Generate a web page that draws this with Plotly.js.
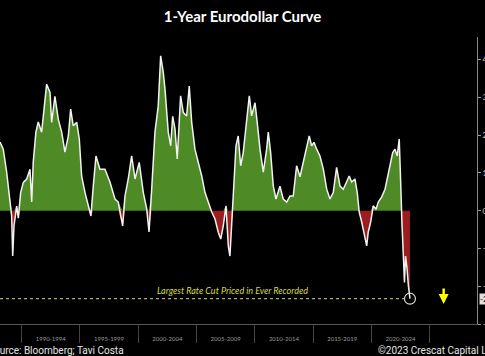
<!DOCTYPE html>
<html>
<head>
<meta charset="utf-8">
<script src="https://cdn.plot.ly/plotly-3.0.1.min.js"></script>
<style>html,body{margin:0;padding:0;background:#000;}#chart{width:485px;height:356px;}</style>
</head>
<body>
<div id="chart"></div>
<script>
// 1-Year Eurodollar Curve (decimal years, spread in %)
const years = [1988.15,1988.43,1988.72,1989.01,1989.15,1989.24,1989.35,1989.58,1989.72,1989.92,
1990.15,1990.44,1990.72,1990.87,1991.00,1991.23,1991.43,1991.72,1992.01,1992.15,1992.44,1992.58,1992.86,
1993.15,1993.44,1993.72,1994.01,1994.21,1994.43,1994.73,1994.95,1995.15,1995.44,1995.72,1995.95,1996.15,
1996.38,1996.72,1997.15,1997.58,1998.01,1998.29,1998.67,1998.87,1999.15,1999.44,1999.73,2000.09,2000.44,
2000.73,2000.93,2001.16,2001.44,2001.72,2001.93,2002.15,2002.30,2002.58,2002.79,2002.96,2003.16,2003.35,
2003.64,2003.87,2004.16,2004.38,2004.59,2004.87,2005.15,2005.45,2005.73,2006.01,2006.30,2006.59,2006.87,
2007.08,2007.30,2007.53,2007.73,2007.87,2008.02,2008.16,2008.39,2008.58,2008.79,2009.01,2009.31,2009.53,
2009.73,2010.02,2010.21,2010.45,2010.73,2011.02,2011.16,2011.36,2011.59,2011.82,2012.16,2012.44,2012.74,
2013.02,2013.30,2013.59,2013.88,2014.16,2014.45,2014.67,2014.88,2015.08,2015.31,2015.59,2015.88,2016.17,
2016.45,2016.73,2017.02,2017.31,2017.59,2017.88,2018.10,2018.31,2018.59,2018.79,2018.96,2019.17,2019.37,
2019.60,2019.73,2019.94,2020.16,2020.40,2020.59,2020.88,2021.17,2021.36,2021.60,2021.83,2022.02,2022.22,
2022.39,2022.45,2022.54,2022.62,2022.71,2022.84,2022.93,2023.05,2023.18,2023.31];
const spread = [1.82,1.63,1.02,0.31,-0.14,-1.2,-0.4,0.12,-0.2,0.48,
0.75,0.84,1.1,0.23,1.28,2.08,2.35,2.08,2.87,3.35,3.13,2.34,3.03,
2.42,2.08,1.55,1.98,2.69,2.25,2.34,1.9,0.92,0.48,0.12,-0.14,0.65,
1.45,1.1,1.1,0.76,0.31,0.23,-0.4,0.39,0.84,1.45,0.84,1.28,0.48,
0.05,-0.56,0.57,2.08,2.77,4.1,3.67,3.22,2.08,1.72,2.5,2.16,1.37,
3.04,2.6,2.51,3.3,2.34,1.63,1.29,0.92,0.48,0.23,-0.03,-0.22,-0.57,
-0.75,-0.4,0.13,-0.93,-1.2,-0.4,0.39,1.72,1.98,1.19,1.54,2.34,3.04,
2.51,2.86,2.34,1.63,1.02,1.63,2.08,1.54,0.65,0.31,0.65,0.31,0.23,
0.39,0.39,1.19,0.9,1.3,1.63,1.98,1.72,1.81,1.63,1.45,1.1,0.57,
0.31,0.48,1.15,0.65,0.57,0.76,0.92,0.76,0.84,0.48,-0.04,-0.3,-0.57,
-0.93,-0.57,-0.3,0.13,0.04,0.23,0.36,0.57,0.84,1.19,1.54,1.63,1.45,
1.9,0.92,0.5,-0.3,-1.0,-1.9,-1.2,-1.5,-2.0,-2.33];

const periodCenters = [1992.5,1997.5,2002.5,2007.5,2012.5,2017.5,2022.5];
const periodLabels = ["1990-1994","1995-1999","2000-2004","2005-2009","2010-2014","2015-2019","2020-2024"];
const periodBounds = [1990,1995,2000,2005,2010,2015,2020,2025];
const yTicks = [-3,-2,-1,0,1,2,3,4];

const xRange = [1988.15, 2029.06];
const yRange = [-3, 4.6];

const lastX = years[years.length-1];
const lastV = spread[spread.length-1];

const traces = [
  {x: years, y: spread.map(v => Math.max(v,0)), type:'scatter', mode:'lines', fill:'tozeroy',
   fillcolor:'#4e8a25', line:{width:0, color:'#4e8a25'}, hoverinfo:'skip'},
  {x: years, y: spread.map(v => Math.min(v,0)), type:'scatter', mode:'lines', fill:'tozeroy',
   fillcolor:'#9c1d1d', line:{width:0, color:'#9c1d1d'}, hoverinfo:'skip'},
  {x: years, y: spread, type:'scatter', mode:'lines', line:{width:1.5, color:'#f2f2f2'}},
  {x: [lastX], y: [lastV], type:'scatter', mode:'markers',
   marker:{symbol:'circle-open', size:11, color:'#d8d8d8', line:{width:1.2, color:'#d8d8d8'}}}
];

const layout = {
  width: 485, height: 356,
  margin: {l:0, r:8, t:37, b:32},
  paper_bgcolor:'#000', plot_bgcolor:'#000',
  showlegend:false,
  title: {text:'1-Year Eurodollar Curve', font:{family:'Lato', size:15, color:'#ffffff', weight:'bold'},
          x:0.5, xanchor:'center', y:1-17/356, yanchor:'middle'},
  xaxis: {range:xRange, showgrid:false, zeroline:false,
          tickmode:'array', tickvals:periodCenters, ticktext:periodLabels,
          ticks:'outside', ticklen:9, tickcolor:'rgba(0,0,0,0)',
          tickfont:{family:'Lato', size:6, color:'#9a9a9a'},
          showline:true, linecolor:'#555', linewidth:1,
          minor:{tickmode:'array', tickvals:periodBounds, ticks:'outside', ticklen:18, tickcolor:'#444', tickwidth:1}},
  yaxis: {range:yRange, side:'right', showgrid:false, zeroline:false,
          tickmode:'array', tickvals:yTicks, tickformat:'.2f',
          ticks:'outside', ticklen:3, tickcolor:'#999',
          tickfont:{family:'Lato', size:8, color:'#cccccc'},
          showline:true, linecolor:'#8a8a8a', linewidth:1},
  shapes: [
    {type:'line', xref:'x', yref:'y', x0:xRange[0], x1:lastX-0.35, y0:lastV, y1:lastV,
     line:{color:'#d4d48c', width:1, dash:'dot'}}
  ],
  annotations: [
    {text:'Largest Rate Cut Priced in Ever Recorded', xref:'x', yref:'y', x:2008.05, y:lastV,
     yanchor:'bottom', yshift:1, showarrow:false,
     font:{family:'Lato', size:9, color:'#dada3c', style:'italic'}},
    {text:'', xref:'x', yref:'y', x:2026.2, y:-2.47, ax:0, ay:-17, showarrow:true,
     arrowcolor:'#ffff00', arrowwidth:2.5, arrowhead:2, arrowsize:0.8},
    {text:lastV.toFixed(2), xref:'paper', yref:'y', x:1, y:lastV, xanchor:'left', xshift:2,
     showarrow:false, bgcolor:'#e0e0e0', borderpad:0,
     font:{family:'Lato', size:8, color:'#000'}},
    {text:'Source: Bloomberg; Tavi Costa', xref:'paper', yref:'paper', x:126/477, y:-26/287,
     xanchor:'right', yanchor:'middle', showarrow:false,
     font:{family:'Roboto', size:10, color:'#e6e6e6'}},
    {text:'©2023 Crescat Capital LLC', xref:'paper', yref:'paper', x:376/477, y:-26/287,
     xanchor:'left', yanchor:'middle', showarrow:false,
     font:{family:'Roboto', size:10, color:'#e6e6e6'}}
  ]
};

Plotly.newPlot('chart', traces, layout, {staticPlot:true, displayModeBar:false});
</script>
</body>
</html>
